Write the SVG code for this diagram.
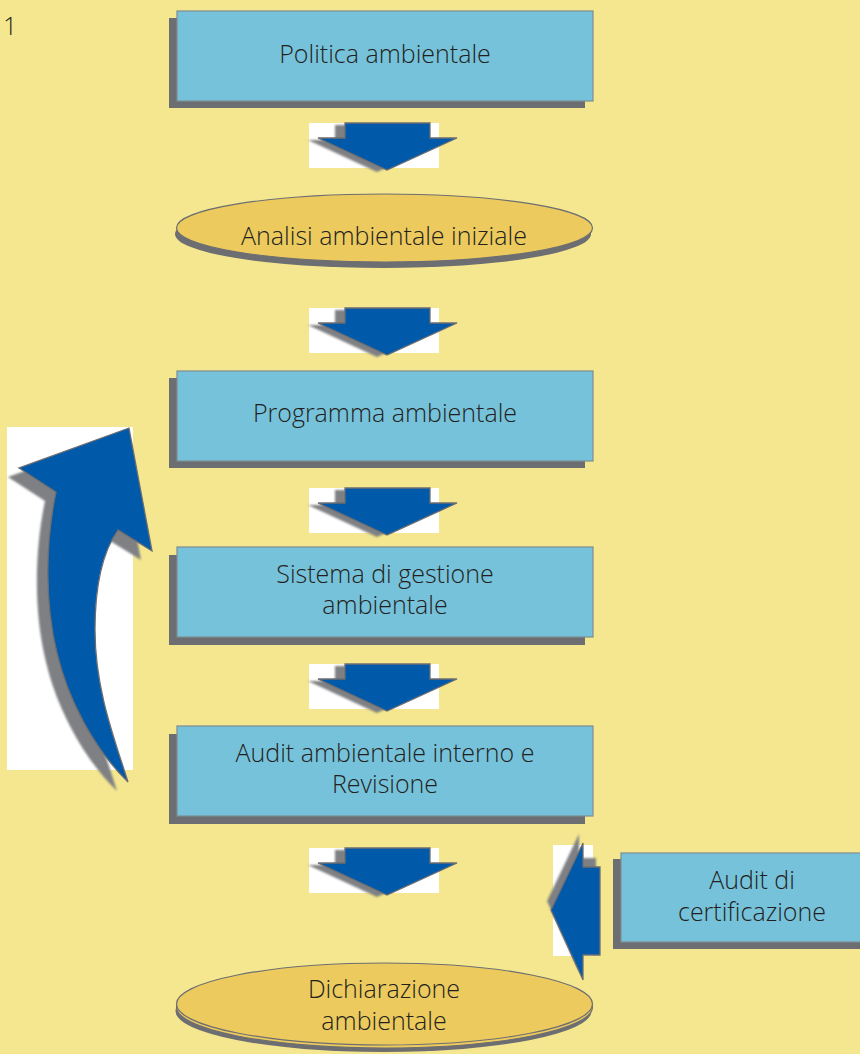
<svg xmlns="http://www.w3.org/2000/svg" width="860" height="1054" viewBox="0 0 860 1054">
<defs>
<style>
.bg{fill:#f4e78f}
.box{fill:#76c2da;stroke:#7d8c93;stroke-width:1.2}
.sh{fill:#6d6e71}
.ell{fill:#ecca5e;stroke:#6d6e71;stroke-width:1.2}
.t{font-family:"Open Sans","Noto Sans",sans-serif;font-size:25px;font-weight:300;fill:#231f20;text-anchor:middle}
.wh{fill:#ffffff}
.ab{fill:#0059a9;stroke:#6d6e71;stroke-width:1.3;stroke-linejoin:miter}
.as{fill:#7f8083}
</style>
<filter id="bl" x="-10%" y="-10%" width="120%" height="120%"><feGaussianBlur stdDeviation="0.8"/></filter>
<g id="down">
<rect class="wh" x="0" y="0" width="130" height="45"/>
<path class="as" filter="url(#bl)" d="M26,2 H111 V17 H138 L68,49 L-1,17 H26 Z"/>
<path class="ab" d="M36,0 H121 V15 H148 L78,47 L9,15 H36 Z"/>
</g>
</defs>
<rect class="bg" x="0" y="0" width="860" height="1054"/>
<text x="3" y="35" style="font-family:'Open Sans','Noto Sans',sans-serif;font-size:25px;font-weight:300;fill:#231f20">1</text>

<g id="connectors">
<use href="#down" x="309" y="123"/>
<use href="#down" x="309" y="308"/>
<use href="#down" x="309" y="488"/>
<use href="#down" x="309" y="664"/>
<use href="#down" x="309" y="848"/>
<g id="loop-arrow">
<rect class="wh" x="7" y="427" width="126" height="343"/>
<path class="as" filter="url(#bl)" transform="translate(-11,9)" d="M129,428 L152,551 L118,530 C104,550 95,580 95,630 C95,690 115,740 128,782 C95,750 68,700 57,653 C44,600 46,540 56,492 L19,468 Z"/>
<path class="ab" d="M129,428 L152,551 L118,530 C104,550 95,580 95,630 C95,690 115,740 128,782 C95,750 68,700 57,653 C44,600 46,540 56,492 L19,468 Z"/>
</g>
<g id="cert-arrow">
<rect class="wh" x="553" y="845" width="40" height="111"/>
<path class="as" filter="url(#bl)" d="M547,901 L579,834 L579,858 L596,858 L596,946 L579,946 L579,971 Z"/>
<path class="ab" d="M551,910 L583,843 L583,867 L600,867 L600,955 L583,955 L583,980 Z"/>
</g>
</g>

<g id="n1">
<rect class="sh" x="169" y="18" width="416" height="90"/>
<rect class="box" x="177" y="11" width="416" height="90"/>
<text class="t" x="385" y="63">Politica ambientale</text>
</g>
<g id="n2">
<ellipse class="sh" cx="383" cy="234" rx="208" ry="34"/>
<ellipse class="ell" cx="384.5" cy="228" rx="208" ry="34"/>
<text class="t" x="384" y="245">Analisi ambientale iniziale</text>
</g>
<g id="n3">
<rect class="sh" x="169" y="378" width="416" height="90"/>
<rect class="box" x="177" y="371" width="416" height="90"/>
<text class="t" x="385" y="422">Programma ambientale</text>
</g>
<g id="n4">
<rect class="sh" x="169" y="555" width="416" height="90"/>
<rect class="box" x="177" y="547" width="416" height="90"/>
<text class="t" x="385" y="583">Sistema di gestione</text>
<text class="t" x="385" y="614">ambientale</text>
</g>
<g id="n5">
<rect class="sh" x="169" y="734" width="416" height="90"/>
<rect class="box" x="177" y="726" width="416" height="90"/>
<text class="t" x="385" y="762">Audit ambientale interno e</text>
<text class="t" x="385" y="793">Revisione</text>
</g>
<g id="n6">
<rect class="sh" x="613" y="859" width="260" height="90"/>
<rect class="box" x="621" y="853" width="260" height="89"/>
<text class="t" x="752" y="889">Audit di</text>
<text class="t" x="752" y="921">certificazione</text>
</g>
<g id="n7">
<ellipse class="sh" cx="383.5" cy="1011" rx="208" ry="41"/>
<ellipse class="ell" cx="384.5" cy="1007" rx="208" ry="41"/>
<ellipse class="ell" cx="384.5" cy="1004" rx="208" ry="41"/>
<text class="t" x="384" y="998">Dichiarazione</text>
<text class="t" x="384" y="1030">ambientale</text>
</g>
</svg>
